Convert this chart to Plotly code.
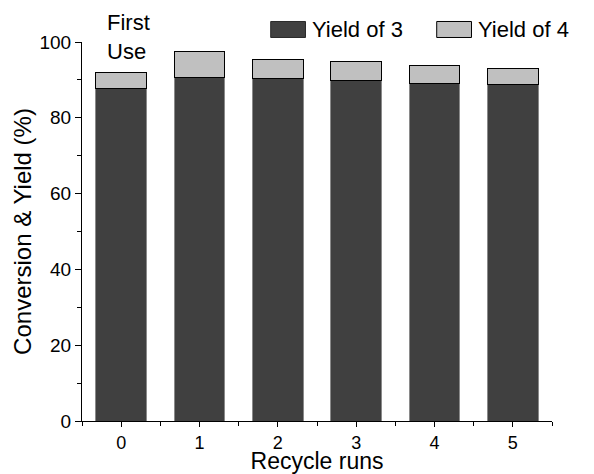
import plotly.graph_objects as go

# Recycling runs of the catalyst and the yields of products 3 and 4 (%)
runs = [0, 1, 2, 3, 4, 5]
run_labels = ["0", "1", "2", "3", "4", "5"]
yield_3 = [87.7, 90.7, 90.3, 89.8, 89.1, 88.8]
yield_4 = [4.2, 6.9, 5.2, 5.0, 4.7, 4.3]
series_names = ["Yield of 3", "Yield of 4"]

font_family = "Liberation Sans, Arial, sans-serif"
fill_colors = ["#404040", "#c0c0c0"]
edge_colors = ["#8a8a8a", "#000000"]
swatch_edges = ["#2a2a2a", "#000000"]

fig = go.Figure()
for name, vals, fc, ec in zip(series_names, [yield_3, yield_4], fill_colors, edge_colors):
    fig.add_trace(go.Bar(
        x=runs, y=vals, name=name, width=0.65,
        marker=dict(color=fc, line=dict(color=ec, width=1)),
        showlegend=False,
    ))

# Legend drawn as wide swatches with labels above the plot area
swatch_x = [0.4015, 0.7547]
swatch_w = 0.0740
for name, sx, fc, se in zip(series_names, swatch_x, fill_colors, swatch_edges):
    fig.add_shape(
        type="rect", xref="paper", yref="paper",
        x0=sx, x1=sx + swatch_w, y0=1.0119, y1=1.0541,
        fillcolor=fc, line=dict(color=se, width=1),
    )
    fig.add_annotation(
        x=sx + swatch_w, y=1.0317, xref="paper", yref="paper",
        xanchor="left", yanchor="middle", text=name, showarrow=False,
        font=dict(size=22, color="#000000", family=font_family), xshift=5,
    )

fig.add_annotation(
    x=-0.5, y=1.0, xref="x", yref="paper", xanchor="left", yanchor="top",
    text="First<br>Use", showarrow=False, align="left",
    font=dict(size=22, color="#000000", family=font_family), xshift=23, yshift=34,
)

fig.update_layout(
    width=594, height=474,
    margin=dict(l=82, r=42, t=42, b=53, autoexpand=False),
    barmode="stack",
    paper_bgcolor="white", plot_bgcolor="white",
    font=dict(family=font_family, color="#000000"),
    showlegend=False,
    xaxis=dict(
        range=[-0.5, 5.5], tickmode="array", tickvals=runs, ticktext=run_labels,
        showline=True, linecolor="#000000", linewidth=1,
        ticks="outside", ticklen=5, tickcolor="#000000",
        minor=dict(tickvals=[r + 0.5 for r in runs[:-1]] + [-0.5, 5.5], ticks="outside", ticklen=4, tickcolor="#000000"),
        showgrid=False, zeroline=False,
        tickfont=dict(size=18),
        title=dict(text="Recycle runs", font=dict(size=23), standoff=1),
    ),
    yaxis=dict(
        range=[0, 100], tickvals=[0, 20, 40, 60, 80, 100],
        showline=True, linecolor="#000000", linewidth=1,
        ticks="outside", ticklen=6, tickcolor="#000000",
        minor=dict(dtick=10, ticks="outside", ticklen=4, tickcolor="#000000"),
        showgrid=False, zeroline=False,
        tickfont=dict(size=19),
        title=dict(text="Conversion & Yield (%)", font=dict(size=24), standoff=1),
    ),
)

fig.write_html("out.html")
